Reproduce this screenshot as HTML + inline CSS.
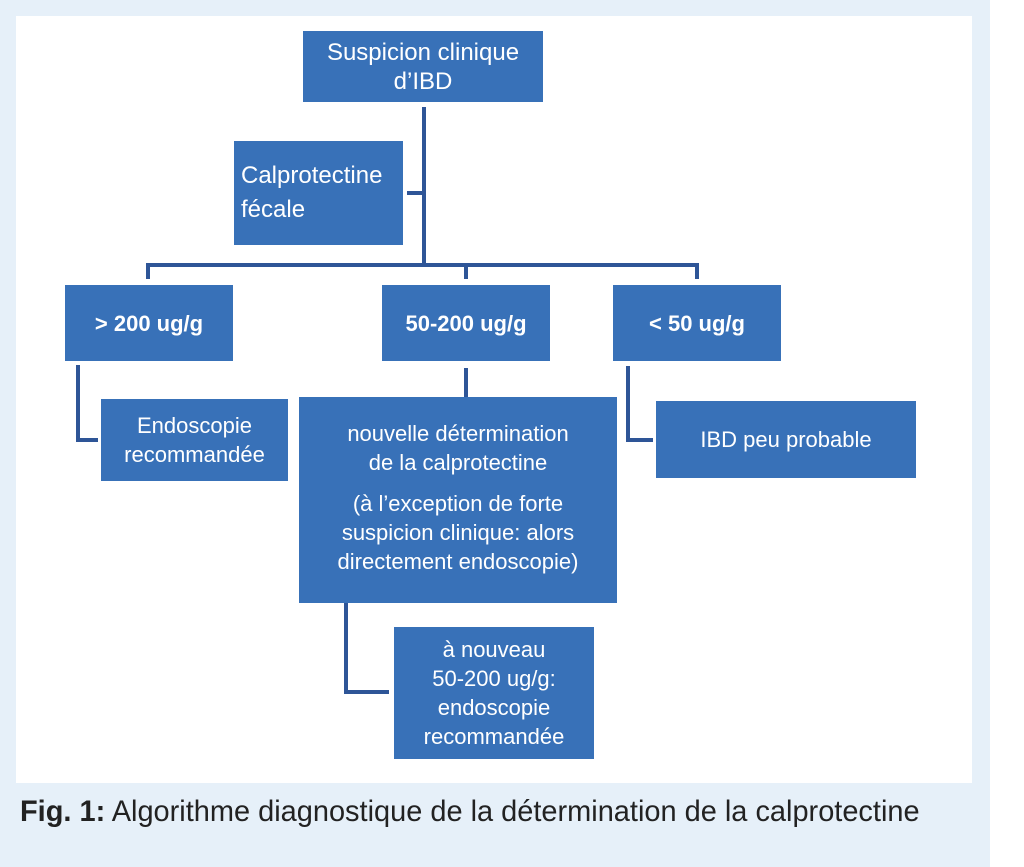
<!DOCTYPE html>
<html><head><meta charset="utf-8"><style>
body{margin:0;width:1024px;height:867px;background:#fff;position:relative;overflow:hidden;font-family:"Liberation Sans",sans-serif}
.bg{position:absolute;left:0;top:0;width:990px;height:867px;background:#e6f0f9}
.panel{position:absolute;left:16px;top:16px;width:956px;height:767px;background:#fff}
.b{position:absolute;background:#3871b8;color:#fff;font-size:22px;display:flex;align-items:center;justify-content:center;text-align:center;line-height:29px;box-sizing:border-box}
.l{position:absolute;background:#2e5597}
.cap{position:absolute;left:20px;top:795px;font-size:30px;color:#222;transform:scaleX(.965);transform-origin:left;white-space:nowrap}
</style></head><body>
<div class="bg"></div><div class="panel"></div>
<div class="l" style="left:422px;top:107px;width:4px;height:160px"></div>
<div class="l" style="left:407px;top:191px;width:17px;height:4px"></div>
<div class="l" style="left:146px;top:263px;width:553px;height:4px"></div>
<div class="l" style="left:146px;top:263px;width:4px;height:16px"></div>
<div class="l" style="left:464px;top:263px;width:4px;height:16px"></div>
<div class="l" style="left:695px;top:263px;width:4px;height:16px"></div>
<div class="l" style="left:76px;top:365px;width:4px;height:77px"></div>
<div class="l" style="left:76px;top:438px;width:22px;height:4px"></div>
<div class="l" style="left:464px;top:368px;width:4px;height:30px"></div>
<div class="l" style="left:626px;top:366px;width:4px;height:76px"></div>
<div class="l" style="left:626px;top:438px;width:27px;height:4px"></div>
<div class="l" style="left:344px;top:603px;width:4px;height:91px"></div>
<div class="l" style="left:344px;top:690px;width:45px;height:4px"></div>
<div class="b" style="left:303px;top:31px;width:240px;height:71px;font-size:24px">Suspicion clinique<br>d’IBD</div>
<div class="b" style="left:234px;top:141px;width:169px;height:104px;justify-content:flex-start;text-align:left;padding-left:7px;font-size:24px;line-height:34px">Calprotectine<br>fécale</div>
<div class="b" style="left:65px;top:285px;width:168px;height:76px;font-weight:bold">&gt; 200 ug/g</div>
<div class="b" style="left:382px;top:285px;width:168px;height:76px;font-weight:bold">50-200 ug/g</div>
<div class="b" style="left:613px;top:285px;width:168px;height:76px;font-weight:bold">&lt; 50 ug/g</div>
<div class="b" style="left:101px;top:399px;width:187px;height:82px">Endoscopie<br>recommandée</div>
<div class="b" style="left:299px;top:397px;width:318px;height:206px;flex-direction:column;justify-content:flex-start;padding-top:22px">nouvelle détermination<br>de la calprotectine<div style="margin-top:12px">(à l’exception de forte<br>suspicion clinique: alors<br>directement endoscopie)</div></div>
<div class="b" style="left:656px;top:401px;width:260px;height:77px">IBD peu probable</div>
<div class="b" style="left:394px;top:627px;width:200px;height:132px">à nouveau<br>50-200 ug/g:<br>endoscopie<br>recommandée</div>
<div class="cap"><b>Fig. 1:</b> Algorithme diagnostique de la détermination de la calprotectine</div>
</body></html>
